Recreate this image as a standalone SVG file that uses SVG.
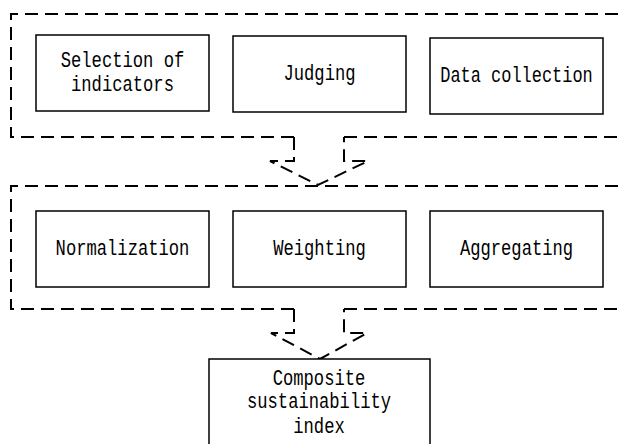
<svg xmlns="http://www.w3.org/2000/svg" width="624" height="444" viewBox="0 0 624 444">
<style>
.dash{fill:none;stroke:#000;stroke-width:2;stroke-dasharray:13 7;stroke-linejoin:miter}
.box{fill:#fff;stroke:#000;stroke-width:1.5}
.t{font-family:"Liberation Mono","DejaVu Sans Mono",monospace;font-size:22px;fill:#000;text-anchor:middle}
</style>
<rect width="624" height="444" fill="#fff"/>
<g id="stage1">
<path class="dash" d="M294,137 H11 V14 H630"/>
<path class="dash" d="M344,137 H630"/>
</g>
<g id="stage2">
<path class="dash" d="M294,309 H11 V186 H630"/>
<path class="dash" d="M344,309 H630"/>
</g>
<g id="connectors">
<path class="dash" d="M294,137 V161 H270 L318,185 L368,161 H344 V137"/>
<path class="dash" d="M294,309 V333 H271 L320,359 L367,333 H344 V309"/>
</g>
<g id="selection">
<rect class="box" x="36" y="35" width="173" height="76"/>
<text class="t" transform="translate(122.5,67) scale(0.78,1)">Selection of</text>
<text class="t" transform="translate(122.5,91) scale(0.78,1)">indicators</text>
</g>
<g id="judging">
<rect class="box" x="233" y="36" width="173" height="76"/>
<text class="t" transform="translate(319.5,80) scale(0.78,1)">Judging</text>
</g>
<g id="datacollection">
<rect class="box" x="430" y="38" width="173" height="76"/>
<text class="t" transform="translate(516.5,82) scale(0.77,1)">Data collection</text>
</g>
<g id="normalization">
<rect class="box" x="36" y="211" width="173" height="76"/>
<text class="t" transform="translate(122.5,255) scale(0.78,1)">Normalization</text>
</g>
<g id="weighting">
<rect class="box" x="233" y="211" width="173" height="76"/>
<text class="t" transform="translate(319.5,255) scale(0.78,1)">Weighting</text>
</g>
<g id="aggregating">
<rect class="box" x="430" y="211" width="173" height="76"/>
<text class="t" transform="translate(516.5,255) scale(0.78,1)">Aggregating</text>
</g>
<g id="composite">
<rect class="box" x="209" y="359" width="221" height="100"/>
<text class="t" transform="translate(319,385) scale(0.78,1)">Composite</text>
<text class="t" transform="translate(319,408) scale(0.78,1)">sustainability</text>
<text class="t" transform="translate(319,433) scale(0.78,1)">index</text>
</g>
</svg>
